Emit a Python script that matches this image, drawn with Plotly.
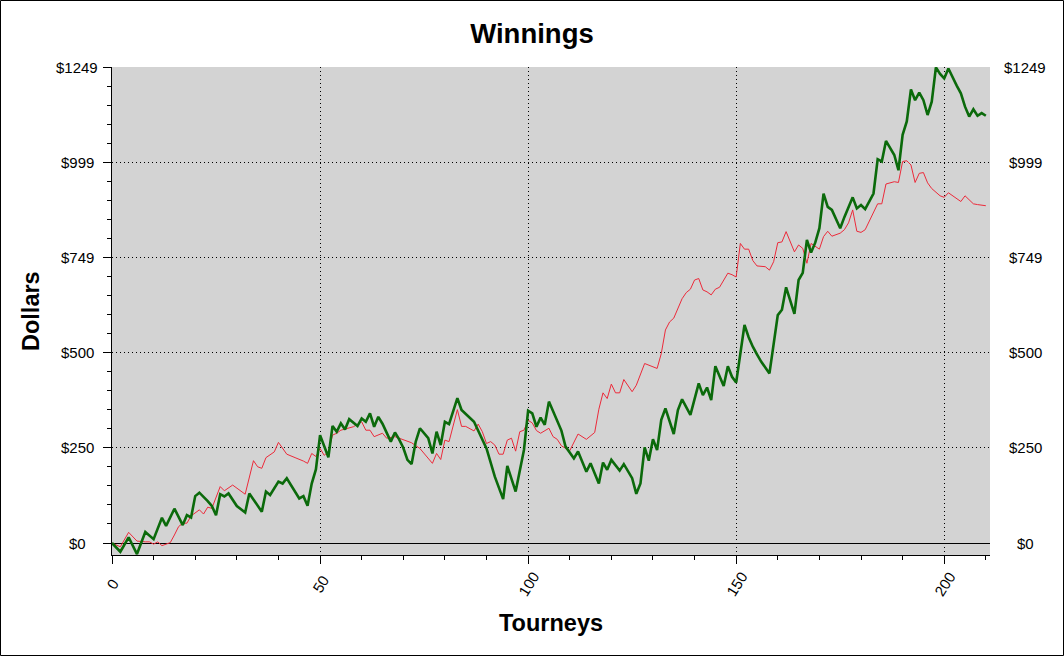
import plotly.graph_objects as go

# ---------------- data ----------------
green_t = [0, 2, 4, 6, 8, 10, 12, 13, 15, 17,
           18, 19, 20, 21, 23, 24, 25, 26, 27, 28,
           30, 32, 33, 35, 36, 37, 38, 40, 41, 42,
           45, 46, 47, 48, 49, 50, 52, 53, 54, 55,
           56, 57, 59, 60, 61, 62, 63, 64, 65, 67,
           68, 69, 70, 71, 72, 73, 74, 76, 77, 78,
           79, 80, 81, 83, 84, 87, 89, 90, 92, 94,
           95, 97, 99, 100, 101, 102, 103, 104, 105, 106,
           107, 108, 109, 111, 112, 114, 115, 117, 118, 119,
           120, 122, 123, 125, 126, 127, 128, 129, 130, 131,
           132, 133, 135, 136, 137, 139, 141, 142, 143, 144,
           145, 147, 148, 149, 150, 152, 153, 154, 155, 156,
           158, 160, 161, 162, 164, 165, 166, 167, 168, 169,
           170, 171, 172, 173, 175, 176, 178, 179, 180, 181,
           183, 184, 185, 186, 188, 189, 190, 191, 192, 193,
           194, 195, 196, 197, 198, 199, 200, 201, 203, 204,
           205, 206, 207, 208, 209, 210]
green_v = [0, -23, 15, -29, 29, 10, 66, 45, 90, 47,
           73, 67, 123, 132, 110, 97, 73, 128, 122, 130,
           97, 80, 130, 97, 82, 135, 126, 161, 156, 170,
           117, 123, 98, 156, 193, 283, 225, 307, 292, 314,
           298, 325, 307, 327, 318, 340, 305, 331, 313, 266,
           290, 272, 250, 218, 207, 266, 301, 275, 235, 292,
           257, 318, 312, 380, 349, 318, 270, 248, 174, 115,
           202, 135, 244, 347, 340, 305, 329, 310, 371, 345,
           320, 295, 253, 222, 240, 187, 209, 156, 211, 192,
           218, 190, 207, 170, 129, 156, 251, 216, 272, 244,
           323, 353, 286, 349, 377, 336, 419, 388, 408, 375,
           464, 412, 464, 436, 421, 572, 540, 515, 495, 476,
           445, 598, 612, 671, 601, 690, 709, 795, 762, 788,
           826, 917, 882, 874, 826, 855, 907, 878, 887, 876,
           917, 1007, 1001, 1055, 1018, 978, 1071, 1106, 1190, 1162,
           1182, 1162, 1123, 1158, 1248, 1231, 1219, 1245, 1200, 1180,
           1145, 1119, 1138, 1121, 1128, 1121]

red_t = [0, 2, 4, 6, 8, 9, 10, 11, 12, 14,
         15, 16, 17, 18, 19, 21, 22, 23, 24, 26,
         27, 29, 32, 34, 35, 36, 37, 38, 39, 40,
         42, 44, 45, 46, 47, 48, 49, 50, 51, 52,
         53, 54, 55, 58, 60, 61, 62, 63, 65, 66,
         68, 70, 72, 74, 77, 78, 79, 80, 81, 83,
         84, 85, 87, 88, 89, 90, 91, 92, 93, 94,
         95, 96, 97, 98, 99, 100, 101, 102, 103, 105,
         106, 107, 108, 110, 111, 112, 114, 116, 117, 118,
         119, 120, 121, 122, 123, 125, 126, 128, 131, 132,
         133, 134, 135, 137, 138, 139, 140, 141, 142, 143,
         144, 145, 146, 148, 149, 150, 151, 152, 153, 154,
         155, 157, 158, 159, 160, 161, 162, 164, 165, 166,
         167, 168, 170, 171, 172, 173, 175, 176, 177, 178,
         179, 180, 181, 184, 185, 186, 188, 189, 190, 191,
         192, 193, 194, 195, 196, 197, 199, 200, 201, 202,
         204, 205, 207, 208, 210]
red_v = [0, -10, 28, 5, 3, 3, -3, 3, -7, 1,
         21, 43, 52, 52, 71, 87, 76, 94, 91, 148,
         137, 152, 128, 216, 200, 196, 224, 232, 239, 264,
         233, 224, 220, 215, 209, 235, 227, 248, 230, 240,
         283, 288, 296, 305, 318, 296, 296, 279, 288, 275,
         279, 270, 263, 248, 209, 235, 219, 270, 266, 350,
         306, 306, 294, 312, 292, 261, 266, 257, 233, 233,
         270, 275, 241, 292, 296, 322, 315, 295, 288, 301,
         279, 272, 255, 242, 266, 286, 272, 290, 351, 394,
         379, 417, 394, 394, 429, 397, 414, 471, 458, 497,
         559, 580, 590, 641, 657, 666, 690, 694, 664, 659,
         651, 666, 671, 708, 704, 698, 786, 771, 771, 741,
         727, 725, 716, 738, 788, 790, 817, 764, 782, 773,
         734, 786, 771, 804, 818, 805, 813, 822, 840, 874,
         818, 815, 822, 890, 890, 942, 948, 946, 1001, 1003,
         992, 946, 970, 972, 945, 930, 911, 907, 919, 911,
         896, 911, 890, 888, 885]

x_ticks = [0, 50, 100, 150, 200]
x_tick_text = ["0", "50", "100", "150", "200"]
y_tick_vals = [0, 249.8, 499.6, 749.4, 999.2, 1249]
y_tick_text = ["$0", "$250", "$500", "$749", "$999", "$1249"]

title_text = "Winnings"
x_title = "Tourneys"
y_title = "Dollars"

# ---------------- styling ----------------
X_RANGE = [0, 211]
Y_RANGE = [-31.5, 1249]
FONT = "Liberation Sans, Arial, sans-serif"
W, H = 1064, 656
ML, MR, MT, MB = 112, 74, 67, 101
PW, PH = W - ML - MR, H - MT - MB
GRID_DASH = "1px,3px"

fig = go.Figure()
fig.add_trace(go.Scatter(x=red_t, y=red_v, mode="lines",
                         line=dict(color="#ec2a3a", width=1),
                         showlegend=False, hoverinfo="skip"))
fig.add_trace(go.Scatter(x=green_t, y=green_v, mode="lines",
                         line=dict(color="#0b6a0b", width=2.6),
                         showlegend=False, hoverinfo="skip"))


def tick_axis(side, ticks, major_len, minor_len, dtick, rng, tickvals, **kw):
    d = dict(range=rng, tickmode="array", tickvals=tickvals, ticks=ticks,
             ticklen=major_len, tickcolor="black", tickwidth=1,
             showticklabels=False, showgrid=False, zeroline=False,
             side=side,
             minor=dict(tickmode="linear", tick0=0, dtick=dtick, ticks=ticks,
                        ticklen=minor_len, tickcolor="black", tickwidth=1,
                        showgrid=False))
    d.update(kw)
    return d


xminor = 10
yminor = 49.96

fig.update_layout(
    width=W, height=H,
    margin=dict(l=ML, r=MR, t=MT, b=MB),
    paper_bgcolor="white",
    plot_bgcolor="#d3d3d3",
    font=dict(family=FONT, color="black", size=15),
    title=dict(text="<b>" + title_text + "</b>", x=0.5, xref="container",
               xanchor="center", y=1 - 33 / H, yref="container", yanchor="middle",
               font=dict(family=FONT, size=27.5, color="black")),
    xaxis=tick_axis("bottom", "outside", 8, 4, xminor, X_RANGE, x_ticks,
                    showgrid=True, gridcolor="black", griddash=GRID_DASH, gridwidth=1,
                    showline=True, linecolor="black", linewidth=1),
    xaxis2=tick_axis("bottom", "inside", 4, 4, xminor, X_RANGE, x_ticks,
                     overlaying="x", anchor="y"),
    xaxis3=tick_axis("top", "inside", 4, 4, xminor, X_RANGE, x_ticks,
                     overlaying="x", anchor="y",
                     showline=True, linecolor="black", linewidth=1),
    yaxis=tick_axis("left", "outside", 8, 4, yminor, Y_RANGE, y_tick_vals,
                    showgrid=True, gridcolor="black", griddash=GRID_DASH, gridwidth=1,
                    zeroline=True, zerolinecolor="black", zerolinewidth=1,
                    showline=True, linecolor="black", linewidth=1),
    yaxis2=tick_axis("left", "inside", 4, 4, yminor, Y_RANGE, y_tick_vals,
                     overlaying="y", anchor="x"),
    yaxis3=tick_axis("right", "outside", 9, 5, yminor, Y_RANGE, y_tick_vals,
                     overlaying="y", anchor="x",
                     showline=True, linecolor="black", linewidth=1),
    yaxis4=tick_axis("right", "inside", 4, 4, yminor, Y_RANGE, y_tick_vals,
                     overlaying="y", anchor="x"),
)

ann = []
# y tick labels, left and right, centred like the reference
for v, t in zip(y_tick_vals, y_tick_text):
    for px in (77, 1025):
        ann.append(dict(x=(px - ML) / PW, xref="paper", y=v, yref="y",
                        text=t, showarrow=False, xanchor="center", yanchor="middle",
                        font=dict(family=FONT, size=15, color="black")))
# x tick labels, rotated
for v, t in zip(x_ticks, x_tick_text):
    ann.append(dict(x=v, xref="x", y=0, yref="paper", yshift=-29,
                    text=t, showarrow=False, textangle=-58,
                    xanchor="center", yanchor="middle",
                    font=dict(family=FONT, size=15, color="black")))
# axis titles
ann.append(dict(x=(31 - ML) / PW, xref="paper", y=0.5, yref="paper",
                text="<b>" + y_title + "</b>", showarrow=False, textangle=-90,
                xanchor="center", yanchor="middle",
                font=dict(family=FONT, size=23.5, color="black")))
ann.append(dict(x=0.5, xref="paper", y=0, yref="paper", yshift=-68,
                text="<b>" + x_title + "</b>", showarrow=False,
                xanchor="center", yanchor="middle",
                font=dict(family=FONT, size=23.5, color="black")))
fig.update_layout(annotations=ann)

# outer frame around the whole image
fig.add_shape(type="rect", xref="paper", yref="paper",
              x0=(0.5 - ML) / PW, x1=(W - 0.5 - ML) / PW,
              y0=-(MB - 0.5) / PH, y1=(PH + MT - 0.5) / PH,
              line=dict(color="black", width=1), fillcolor="rgba(0,0,0,0)")

fig.write_html("out.html", config={"displayModeBar": False},
               post_script="document.body.style.margin='0';document.body.style.padding='0';")
